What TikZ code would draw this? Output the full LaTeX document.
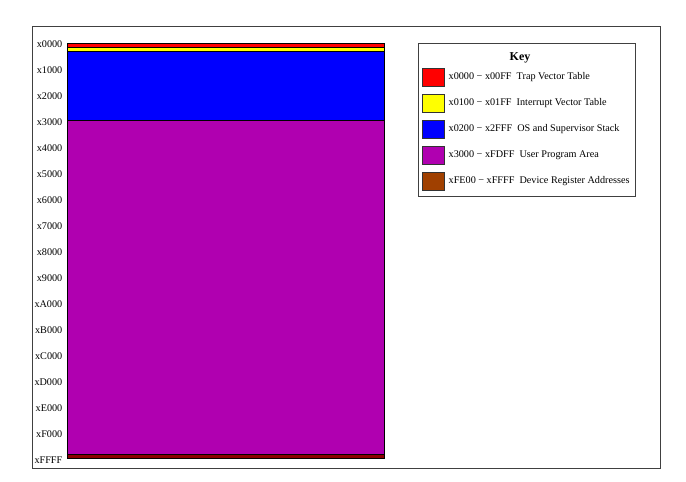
\documentclass[tikz,border=0pt]{standalone}
\usepackage{fontspec}
\setmainfont{Liberation Serif}
\usetikzlibrary{positioning}
\definecolor{trapred}{RGB}{255,0,0}
\definecolor{intyellow}{RGB}{255,255,0}
\definecolor{osblue}{RGB}{0,0,255}
\definecolor{userpurple}{RGB}{176,0,176}
\definecolor{devbrown}{RGB}{160,64,0}
\definecolor{devdark}{RGB}{140,0,0}
\tikzset{
  frame/.style ={draw=black!75,line width=0.9pt},
  band/.style  ={draw=black,line width=0.9pt},
  addr/.style  ={anchor=east,font=\fontsize{10.2}{12}\selectfont,inner sep=0pt},
  swatch/.style={draw=black!80,line width=0.9pt,minimum width=22pt,minimum height=18pt,inner sep=0pt},
  entry/.style ={font=\fontsize{10.2}{12}\selectfont,inner sep=0pt,anchor=west},
  keyhead/.style={font=\fontsize{12}{14}\selectfont\bfseries,inner sep=0pt},
}
\begin{document}
\begin{tikzpicture}[x=1pt,y=-1pt]
  \useasboundingbox (0,0) rectangle (686,482);
  \draw[frame] (32,26) rectangle (660,468);
  % memory bar
  \draw[band,fill=trapred]    (67.5,43.5) rectangle (384,47.7);
  \draw[band,fill=intyellow]  (67.5,47.7) rectangle (384,51.7);
  \draw[band,fill=osblue]     (67.5,51.7) rectangle (384,120.8);
  \draw[band,fill=userpurple] (67.5,120.8) rectangle (384,454.3);
  \draw[band,fill=devdark]    (67.5,454.3) rectangle (384,458.7);
  % address labels
  \foreach \a [count=\i from 0] in {x0000,x1000,x2000,x3000,x4000,x5000,x6000,x7000,
      x8000,x9000,xA000,xB000,xC000,xD000,xE000,xF000}
    \node[addr] (a\i) at (62.5,{44.5+25.96*\i}) {\a};
  \node[addr] (aend) at (62.5,460) {xFFFF};
  % key
  \draw[frame] (418.5,43.5) rectangle (635.5,196);
  \node[keyhead] (key) at (520,57.5) {Key};
  \foreach \c/\r/\t [count=\i from 0] in {
      trapred/x0000 − x00FF/Trap Vector Table,
      intyellow/x0100 − x01FF/Interrupt Vector Table,
      osblue/x0200 − x2FFF/OS and Supervisor Stack,
      userpurple/x3000 − xFDFF/User Program Area,
      devbrown/xFE00 − xFFFF/Device Register Addresses}{
    \node[swatch,fill=\c] (k\i) at (433.5,{77.5+26*\i}) {};
    \node[entry,right=3.5pt of k\i] (t\i) {\r\enspace\t};
  }
\end{tikzpicture}
\end{document}
